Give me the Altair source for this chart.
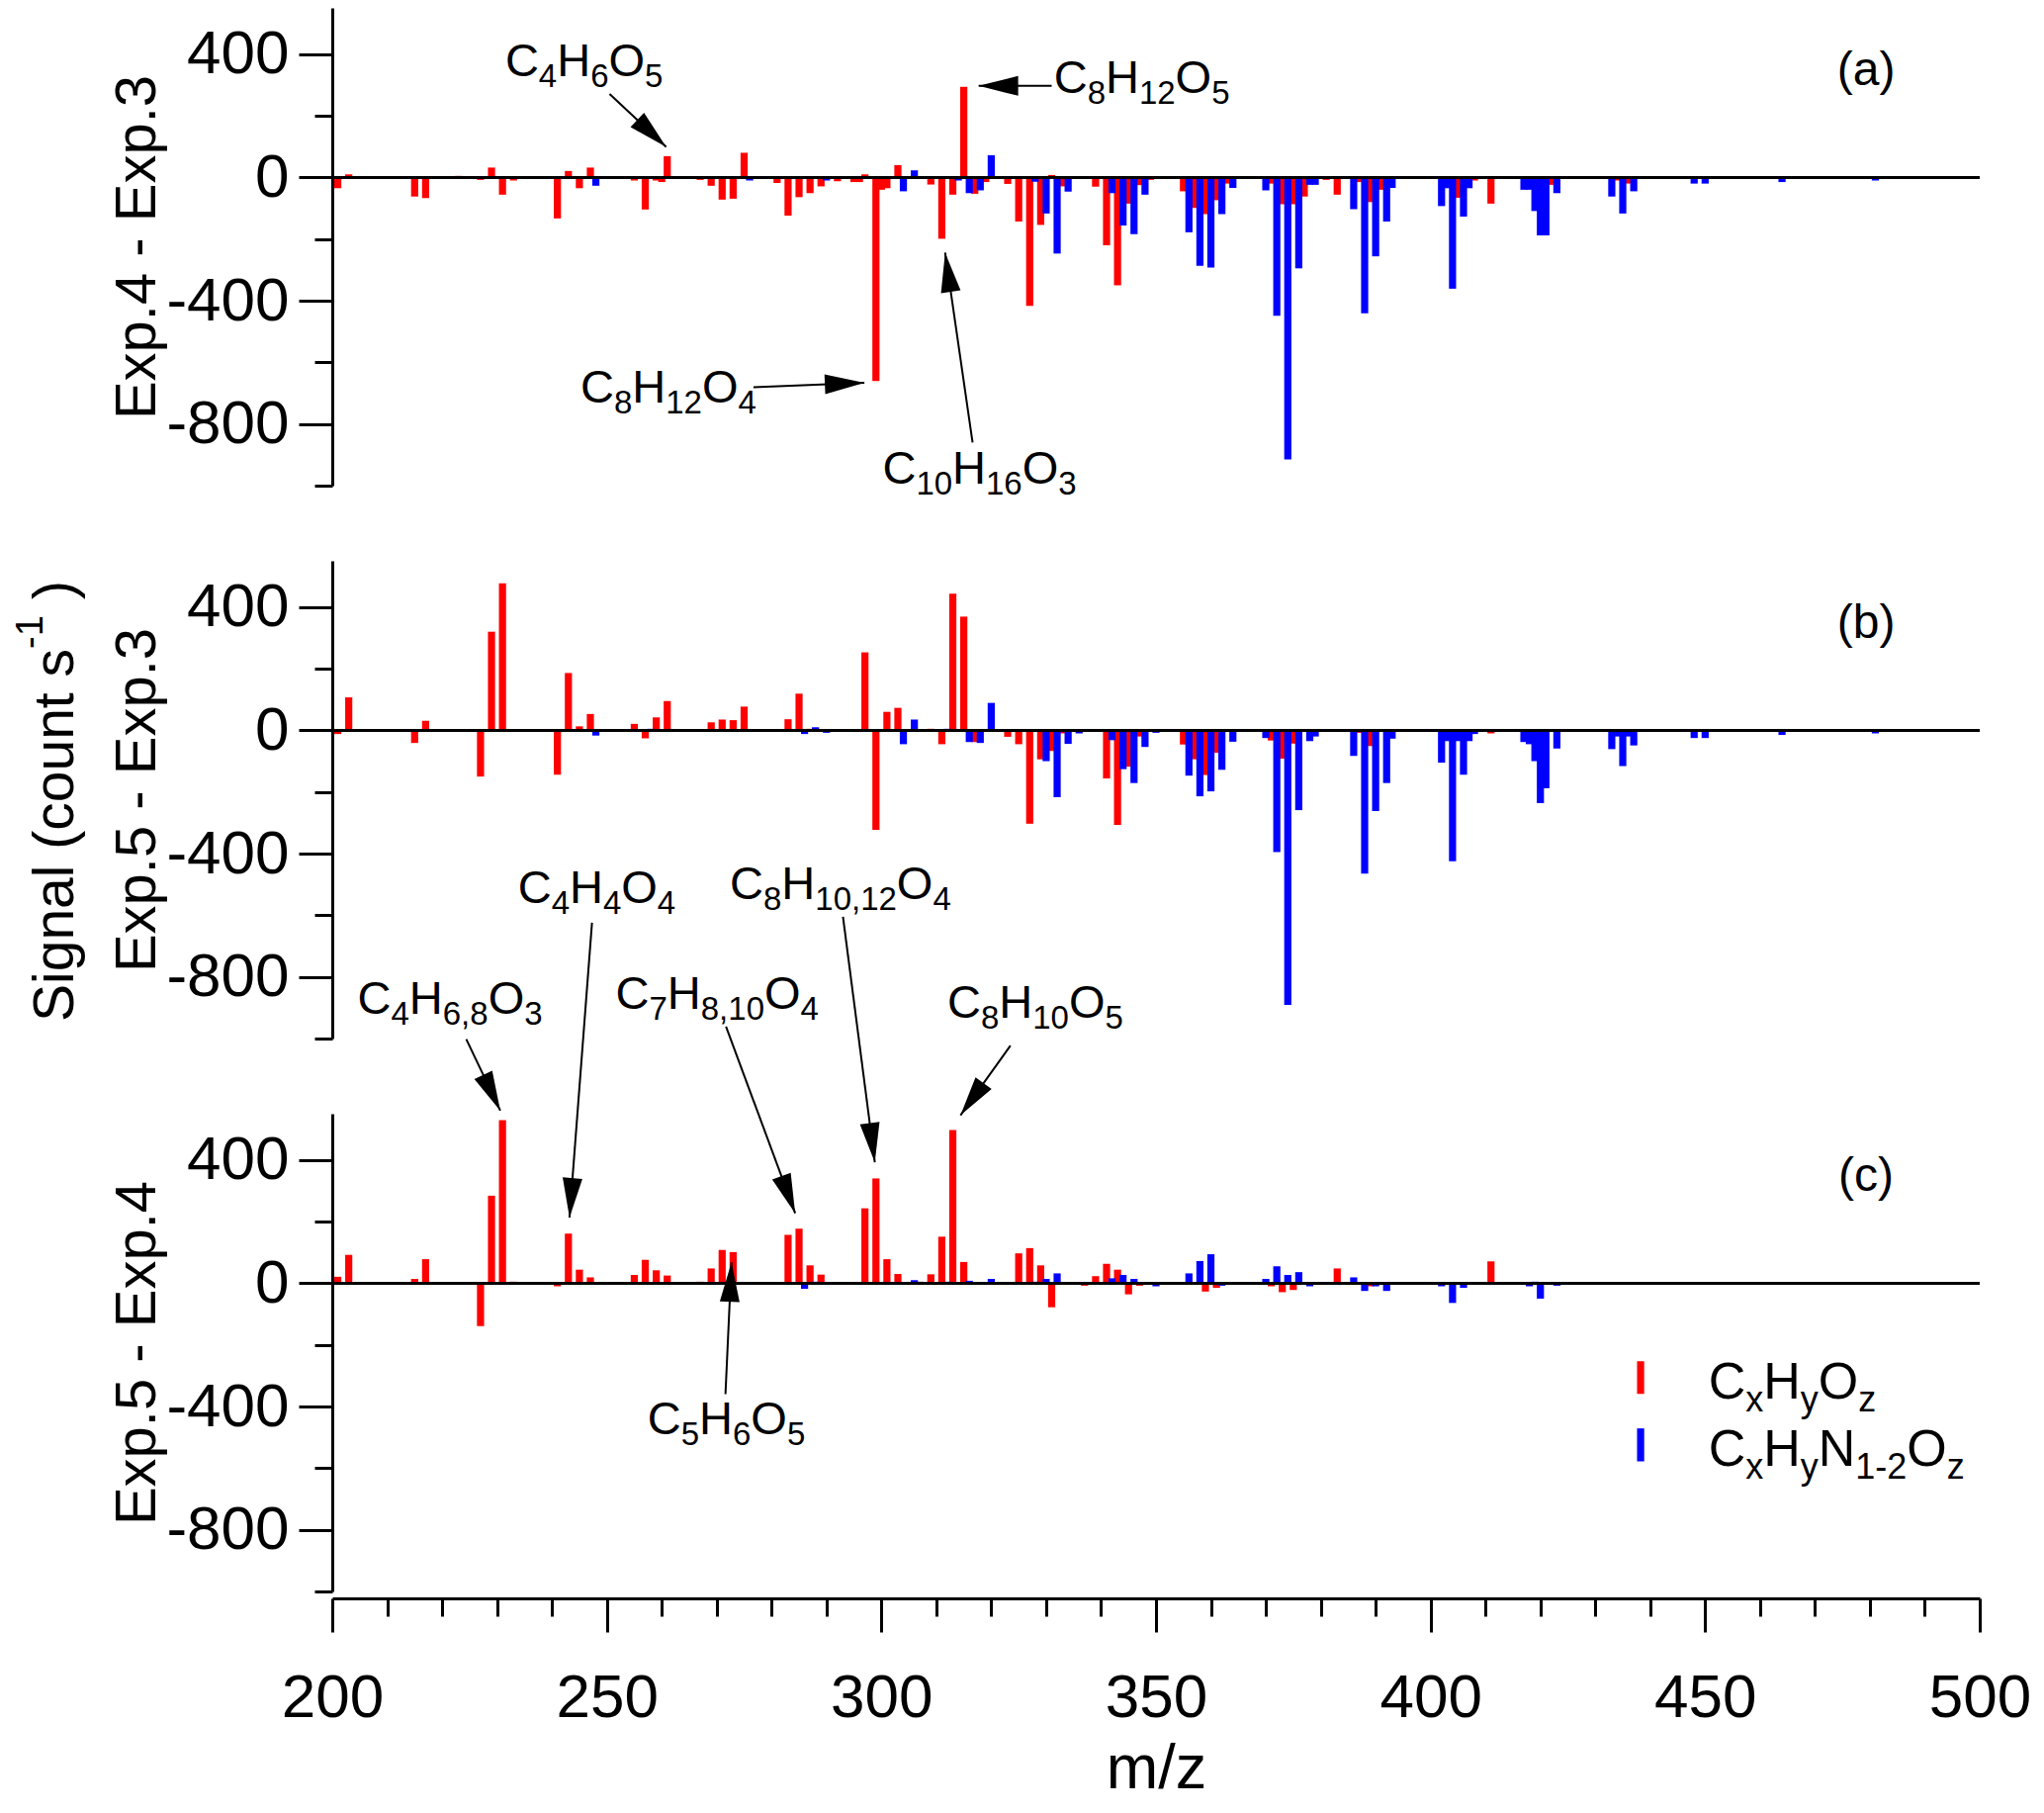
import re
import math
import altair as alt
import pandas as pd

FONT = "Liberation Sans"
W, H = 1666, 483
X_DOMAIN = [200, 500]
Y_DOMAIN = [-1000, 550]
CLASSES = ["CxHyOz", "CxHyN1-2Oz"]
COLORS = ["#ff0000", "#0000ff"]

# ---------------- data: (m/z, signal difference) ----------------
# Panel (a): Exp.4 - Exp.3
a_red = [(201,-35),(203,10),(215,-62),(217,-67),(223,5),(227,-8),(229,32),(231,-56),(233,-10),
         (241,-133),(243,21),(245,-35),(247,32),(255,-10),(257,-104),(259,-10),(260,-15),(261,69),
         (267,-8),(269,-27),(271,-72),(273,-69),(275,80),(281,-18),(283,-124),(285,-64),(287,-51),
         (289,-29),(292,-12),(295,-15),(296,-15),(297,10),(299,-661),(300,-40),(301,-35),(303,40),
         (309,-23),(311,-199),(313,-56),(315,294),(317,-53),(319,-15),(323,-21),(325,-143),(327,-417),
         (329,-154),(331,8),(333,-29),(339,-30),(341,-220),(343,-350),(345,-85),(347,-25),(349,-8),
         (355,-45),(357,-99),(359,-119),(361,-74),(363,-20),(369,-5),(371,-20),(373,-87),(375,-87),
         (377,-62),(381,-8),(383,-56),(385,-5),(387,-15),(389,-80),(391,-40),(395,-5),(405,-66),
         (408,-10),(409,-5),(411,-85),(416,-3),(422,-24),(425,-3),(431,-5),(434,-10),(436,-20),
         (439,-5),(445,-3),(457,-3),(471,-3),(485,-3),(497,-3)]
a_blue = [(232,-5),(248,-27),(276,-10),(288,3),(290,-10),(304,-45),(306,23),(314,-10),(316,-51),
          (318,-42),(320,72),(328,-14),(330,-117),(332,-247),(334,-46),(336,-5),(342,-51),(344,-156),
          (346,-184),(348,-56),(356,-178),(358,-287),(360,-292),(362,-119),(364,-34),(365,-5),
          (370,-42),(372,-449),(374,-915),(376,-295),(378,-24),(379,-24),(386,-103),(388,-441),
          (390,-256),(392,-143),(393,-34),(402,-93),(403,-35),(404,-361),(406,-127),(407,-35),
          (417,-40),(418,-40),(419,-109),(420,-188),(421,-188),(423,-51),(433,-62),(435,-117),
          (437,-45),(448,-20),(450,-20),(452,-5),(464,-15),(466,-5),(481,-10)]

# Panel (b): Exp.5 - Exp.3
b_red = [(201,-12),(203,107),(215,-41),(217,31),(227,-150),(229,320),(231,477),(241,-144),(243,186),
         (245,13),(247,53),(255,21),(257,-26),(259,42),(261,95),(267,3),(269,26),(271,35),(273,33),
         (275,77),(281,3),(283,36),(285,119),(287,5),(291,-5),(297,253),(299,-323),(301,60),(303,73),
         (309,5),(311,-45),(313,443),(315,369),(317,-38),(319,-5),(323,-21),(325,-45),(327,-303),
         (329,-94),(331,-67),(333,-10),(337,-5),(339,-3),(341,-156),(343,-307),(345,-118),(347,-20),
         (355,-46),(357,-94),(359,-145),(361,-73),(363,-5),(371,-33),(373,-92),(375,-43),(377,-5),
         (383,-5),(387,-8),(389,-51),(391,-5),(411,-10),(445,-3),(471,-3),(497,-3)]
b_blue = [(248,-17),(258,5),(276,-3),(286,-12),(288,10),(290,-8),(292,-3),(304,-45),(306,35),(312,5),
          (314,-5),(316,-38),(318,-41),(320,89),(328,-5),(330,-100),(332,-217),(334,-44),(336,-10),
          (342,-32),(344,-126),(346,-171),(348,-54),(350,-8),(356,-147),(358,-214),(360,-198),
          (362,-128),(364,-37),(365,-5),(370,-25),(372,-395),(374,-891),(376,-259),(378,-35),
          (379,-20),(386,-83),(388,-465),(390,-262),(392,-171),(393,-27),(402,-105),(403,-35),
          (404,-425),(405,-35),(406,-144),(407,-35),(408,-12),(417,-38),(418,-45),(419,-100),
          (420,-236),(421,-188),(422,-5),(423,-59),(433,-61),(434,-20),(435,-116),(436,-20),
          (437,-49),(448,-25),(450,-25),(452,-5),(464,-15),(466,-5),(481,-10)]

# Panel (c): Exp.5 - Exp.4
c_red = [(201,21),(203,92),(215,14),(217,78),(227,-139),(229,284),(231,529),(233,5),(241,-10),
         (243,161),(245,44),(247,19),(255,27),(257,76),(259,42),(261,25),(267,5),(269,48),(271,108),
         (273,101),(275,-3),(277,3),(281,3),(283,157),(285,177),(287,58),(289,28),(297,243),(299,340),
         (301,78),(303,30),(307,5),(309,29),(311,151),(313,497),(315,69),(317,3),(323,-3),(325,97),
         (327,114),(329,58),(331,-78),(337,-8),(339,23),(341,63),(343,44),(345,-36),(347,-8),
         (355,3),(359,-27),(361,-15),(371,-10),(373,-29),(375,-22),(383,48),(389,-10),(411,71)]
c_blue = [(286,-18),(288,5),(306,10),(312,5),(316,8),(320,14),(328,5),(330,14),(332,32),(336,-3),
          (342,16),(344,27),(346,14),(350,-10),(356,32),(358,72),(360,94),(362,-8),(370,14),
          (372,55),(374,27),(376,36),(378,-10),(386,19),(388,-25),(390,-10),(392,-25),(402,-10),
          (404,-64),(406,-15),(418,-10),(419,5),(420,-50),(423,-8),(436,-5)]

# Annotations: formula ({} = subscript), text left m/z, text baseline, arrow from (x,y) to (x,y)
ann_a = [("C{4}H{6}O{5}", 231.5, 329, 250.5, 271, 260.8, 99),
         ("C{8}H{12}O{5}", 331.4, 273, 331.0, 297, 317.7, 297),
         ("C{8}H{12}O{4}", 245.2, -729, 276.7, -681, 296.9, -666),
         ("C{10}H{16}O{3}", 300.2, -993, 316.6, -860, 311.6, -244)]
ann_c = [("C{4}H{6,8}O{3}", 204.6, 875, 224.4, 792, 230.6, 560),
         ("C{4}H{4}O{4}", 233.8, 1232, 247.3, 1170, 243.2, 213),
         ("C{7}H{8,10}O{4}", 251.6, 891, 271.7, 833, 284.3, 227),
         ("C{8}H{10,12}O{4}", 272.4, 1247, 293.0, 1189, 298.8, 392),
         ("C{8}H{10}O{5}", 312.0, 860, 323.5, 771, 314.4, 545),
         ("C{5}H{6}O{5}", 257.4, -490, 271.6, -360, 272.7, 68)]

panel_titles = ["Exp.4 - Exp.3", "Exp.5 - Exp.3", "Exp.5 - Exp.4"]
panel_tags = ["(a)", "(b)", "(c)"]
tag_pos = (479.3, 300)

legend_items = [("CxHyOz", "C{x}H{y}O{z}", 437.6, 438.9, -253, -359, -373),
                ("CxHyN1-2Oz", "C{x}H{y}N{1-2}O{z}", 437.6, 438.9, -471, -578, -593)]
legend_text_x = 450.6

# ---------------- helpers ----------------
XU = (X_DOMAIN[1] - X_DOMAIN[0]) / W   # data units per pixel
YU = (Y_DOMAIN[1] - Y_DOMAIN[0]) / H
ADV = {"C": 0.722, "H": 0.722, "O": 0.778, "N": 0.722, "x": 0.5, "y": 0.5, "z": 0.5,
       ",": 0.278, "-": 0.333, " ": 0.278}
ARROW = "M0,0L0.5,2L-0.5,2Z"

xs = alt.Scale(domain=X_DOMAIN, nice=False, zero=False)
ys = alt.Scale(domain=Y_DOMAIN, nice=False, zero=False)
cs = alt.Scale(domain=CLASSES, range=COLORS)


def seg_rows(formula, x_left, y_base, fs_main, fs_sub, shift):
    rows = []
    px = 0.0
    for tok in re.findall(r"\{[^}]*\}|[^{}]+", formula):
        sub = tok.startswith("{")
        t = tok[1:-1] if sub else tok
        fs = fs_sub if sub else fs_main
        dy = shift if sub else 0
        rows.append({"x": x_left + px * XU, "y": y_base - dy * YU, "t": t, "fs": fs})
        px += sum(ADV.get(ch, 0.556) for ch in t) * fs
    return rows


def arrow_angle(x1, y1, x2, y2):
    dxp = (x2 - x1) / XU
    dyp = -(y2 - y1) / YU
    return math.degrees(math.atan2(dxp, -dyp)) % 360


def y_axis(title):
    return alt.Axis(values=list(range(-1000, 401, 200)),
                    labelExpr="datum.value % 400 === 0 ? toString(datum.value) : ''",
                    tickSize={"condition": {"test": "datum.value % 400 === 0", "value": 34}, "value": 18},
                    tickWidth=3, tickColor="black", domainWidth=3, domainColor="black",
                    labelFont=FONT, labelFontSize=62, labelColor="black", labelPadding=10,
                    title=title, titleFont=FONT, titleFontSize=58, titleFontWeight="normal",
                    titleColor="black", titleAngle=270, titleAlign="center",
                    titleBaseline="alphabetic", titleX=-180, titleY=H / 2, grid=False)


x_axis_c = alt.Axis(values=list(range(200, 501, 10)),
                    labelExpr="datum.value % 50 === 0 ? toString(datum.value) : ''",
                    tickSize={"condition": {"test": "datum.value % 50 === 0", "value": 34}, "value": 18},
                    tickWidth=3, tickColor="black", domainWidth=3, domainColor="black", offset=7,
                    labelFont=FONT, labelFontSize=62, labelColor="black", labelPadding=36,
                    labelFlush=False, labelOverlap=False,
                    title="m/z", titleFont=FONT, titleFontSize=63, titleFontWeight="normal",
                    titleColor="black", titlePadding=10, grid=False)


def panel(red, blue, idx, ann, xaxis):
    yaxis = y_axis(panel_titles[idx])

    def X(field):
        return alt.X(field, scale=xs, axis=xaxis, title="m/z")

    def Y(field):
        return alt.Y(field, scale=ys, axis=yaxis, title=panel_titles[idx])

    def text_layer(rows, align="left"):
        return alt.Chart(pd.DataFrame(rows)).mark_text(
            align=align, baseline="alphabetic", font=FONT, color="black").encode(
            x=X("x:Q"), y=Y("y:Q"), text="t:N",
            size=alt.Size("fs:Q", scale=None, legend=None))

    df = pd.DataFrame([{"mz": m, "val": v, "cls": CLASSES[0]} for m, v in red] +
                      [{"mz": m, "val": v, "cls": CLASSES[1]} for m, v in blue])
    bars = alt.Chart(df).transform_calculate(
        xl="datum.mz - 0.65", xr="datum.mz + 0.65").mark_bar().encode(
        x=X("xl:Q"), x2="xr:Q", y=Y("val:Q"), y2=alt.datum(0),
        color=alt.Color("cls:N", scale=cs, legend=None))
    zero = alt.Chart(pd.DataFrame({"z": [0]})).mark_rule(color="black", strokeWidth=3).encode(
        y=Y("z:Q"))
    layers = [bars, zero]
    layers.append(text_layer([{"x": tag_pos[0], "y": tag_pos[1], "t": panel_tags[idx], "fs": 48}],
                             align="center"))
    if ann:
        arr = pd.DataFrame([{"x1": a[3], "y1": a[4], "x2": a[5], "y2": a[6],
                             "ang": arrow_angle(a[3], a[4], a[5], a[6])} for a in ann])
        layers.append(alt.Chart(arr).mark_rule(color="black", strokeWidth=2).encode(
            x=X("x1:Q"), y=Y("y1:Q"), x2="x2:Q", y2="y2:Q"))
        layers.append(alt.Chart(arr).mark_point(shape=ARROW, filled=True, size=1600, color="black",
                                                opacity=1, strokeWidth=0).encode(
            x=X("x2:Q"), y=Y("y2:Q"), angle=alt.Angle("ang:Q", scale=None)))
        rows = []
        for a in ann:
            rows += seg_rows(a[0], a[1], a[2], 47, 33, 11)
        layers.append(text_layer(rows))
    if idx == 2:
        leg_df = pd.DataFrame([{"cls": it[0], "x0": it[2], "x1": it[3], "y0": it[4], "y1": it[5]}
                               for it in legend_items])
        layers.append(alt.Chart(leg_df).mark_rect().encode(
            x=X("x0:Q"), x2="x1:Q", y=Y("y0:Q"), y2="y1:Q",
            color=alt.Color("cls:N", scale=cs, legend=None)))
        leg_rows = []
        for it in legend_items:
            leg_rows += seg_rows(it[1], legend_text_x, it[6], 52, 36, 13)
        layers.append(text_layer(leg_rows))
    return layers


la = panel(a_red, a_blue, 0, ann_a, None)
lb = panel(b_red, b_blue, 1, None, None)
lc = panel(c_red, c_blue, 2, ann_c, x_axis_c)

# shared y title drawn beside panel (b)
sig_main = alt.Chart(pd.DataFrame({"t": ["Signal (count s"]})).mark_text(
    angle=270, align="left", baseline="alphabetic", font=FONT, fontSize=57, color="black").encode(
    text="t:N", x=alt.value(-262), y=alt.value(466))
sig_sup = alt.Chart(pd.DataFrame({"t": ["-1"]})).mark_text(
    angle=270, align="left", baseline="alphabetic", font=FONT, fontSize=38, color="black").encode(
    text="t:N", x=alt.value(-293), y=alt.value(89))
sig_end = alt.Chart(pd.DataFrame({"t": [")"]})).mark_text(
    angle=270, align="left", baseline="alphabetic", font=FONT, fontSize=57, color="black").encode(
    text="t:N", x=alt.value(-262), y=alt.value(39))
lb += [sig_main, sig_sup, sig_end]

pa = alt.layer(*la).properties(width=W, height=H)
pb = alt.layer(*lb).properties(width=W, height=H)
pc = alt.layer(*lc).properties(width=W, height=H)

chart = alt.vconcat(pa, pb, pc, spacing=76, bounds="flush").configure(
    font=FONT, background="white",
    padding={"left": 5, "top": 0, "right": 0, "bottom": 0}).configure_view(stroke=None)

chart.save("out.html", embed_options={"renderer": "svg", "actions": False})
